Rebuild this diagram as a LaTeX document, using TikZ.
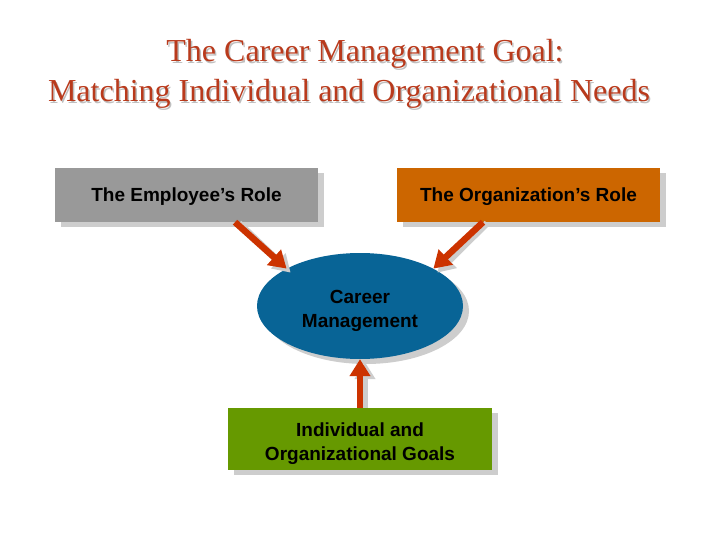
\documentclass[tikz,border=0pt]{standalone}
\usepackage{fontspec}
\setmainfont{Liberation Serif}
\newfontfamily\arialf{Liberation Sans}
\usetikzlibrary{arrows.meta,shapes.geometric}
\definecolor{titlecol}{RGB}{185,58,28}
\definecolor{empgray}{RGB}{153,153,153}
\definecolor{orgorange}{RGB}{204,102,0}
\definecolor{cmblue}{RGB}{8,100,150}
\definecolor{goalgreen}{RGB}{102,153,0}
\definecolor{arrowred}{RGB}{204,51,0}
\definecolor{shadowgray}{RGB}{205,205,205}
\tikzset{
  box/.style={rectangle, minimum width=263pt, minimum height=54pt, inner sep=0pt, align=center,
    font=\arialf\bfseries\fontsize{19}{24}\selectfont, text=black},
  shad/.style={fill=shadowgray, draw=none},
  conn/.style={draw=arrowred, line width=6.5pt, -{Triangle[length=17pt,width=20pt]}},
  connshad/.style={draw=shadowgray, line width=6.5pt, -{Triangle[length=17pt,width=20pt]}},
  titletext/.style={font=\fontsize{32}{38}\selectfont, text=titlecol},
}
\begin{document}
\begin{tikzpicture}[x=1pt,y=-1pt]
\useasboundingbox (0,0) rectangle (720,540);
% title
\node[titletext, text=black!25] at (366.5,55.5) {The Career Management Goal:};
\node[titletext] (t1) at (365,54) {The Career Management Goal:};
\node[titletext, text=black!25] at (350.5,95.5) {Matching Individual and Organizational Needs};
\node[titletext] (t2) at (349,94) {Matching Individual and Organizational Needs};
% shadows of boxes
\fill[shad] (61,173) rectangle (324,227);
\fill[shad] (403,173) rectangle (666,227);
\fill[shad] (234,413) rectangle (498,475);
\fill[shad] (366,311) ellipse (103pt and 53pt);
% nodes
\node[box, fill=empgray, text depth=0pt] (emp) at (186.5,195) {The Employee’s Role};
\node[box, fill=orgorange, text depth=0pt] (org) at (528.5,195) {The Organization’s Role};
\node[ellipse, fill=cmblue, minimum width=206pt, minimum height=106pt, inner sep=0pt, align=center,
  text height=42pt, text depth=0pt, font=\arialf\bfseries\fontsize{19}{24}\selectfont] (cm) at (360,306) {Career\\Management};
\node[box, fill=goalgreen, minimum width=264pt, minimum height=62pt, text height=42pt, text depth=0pt] (goal) at (360,439) {Individual and\\Organizational Goals};
% arrow shadows
\draw[connshad] ([xshift=52.5pt,yshift=-1pt]emp.south) -- ([xshift=4pt,yshift=-4pt]cm.153);
\draw[connshad] ([xshift=-41.5pt,yshift=-1pt]org.south) -- ([xshift=4pt,yshift=-4pt]cm.27);
\draw[connshad] ([xshift=5pt]goal.north) -- ([xshift=5pt,yshift=-3pt]cm.south);
% connectors
\draw[conn] ([xshift=48.5pt]emp.south) -- (cm.153);
\draw[conn] ([xshift=-45.5pt]org.south) -- (cm.27);
\draw[conn] (goal.north) -- (cm.south);
\end{tikzpicture}
\end{document}
